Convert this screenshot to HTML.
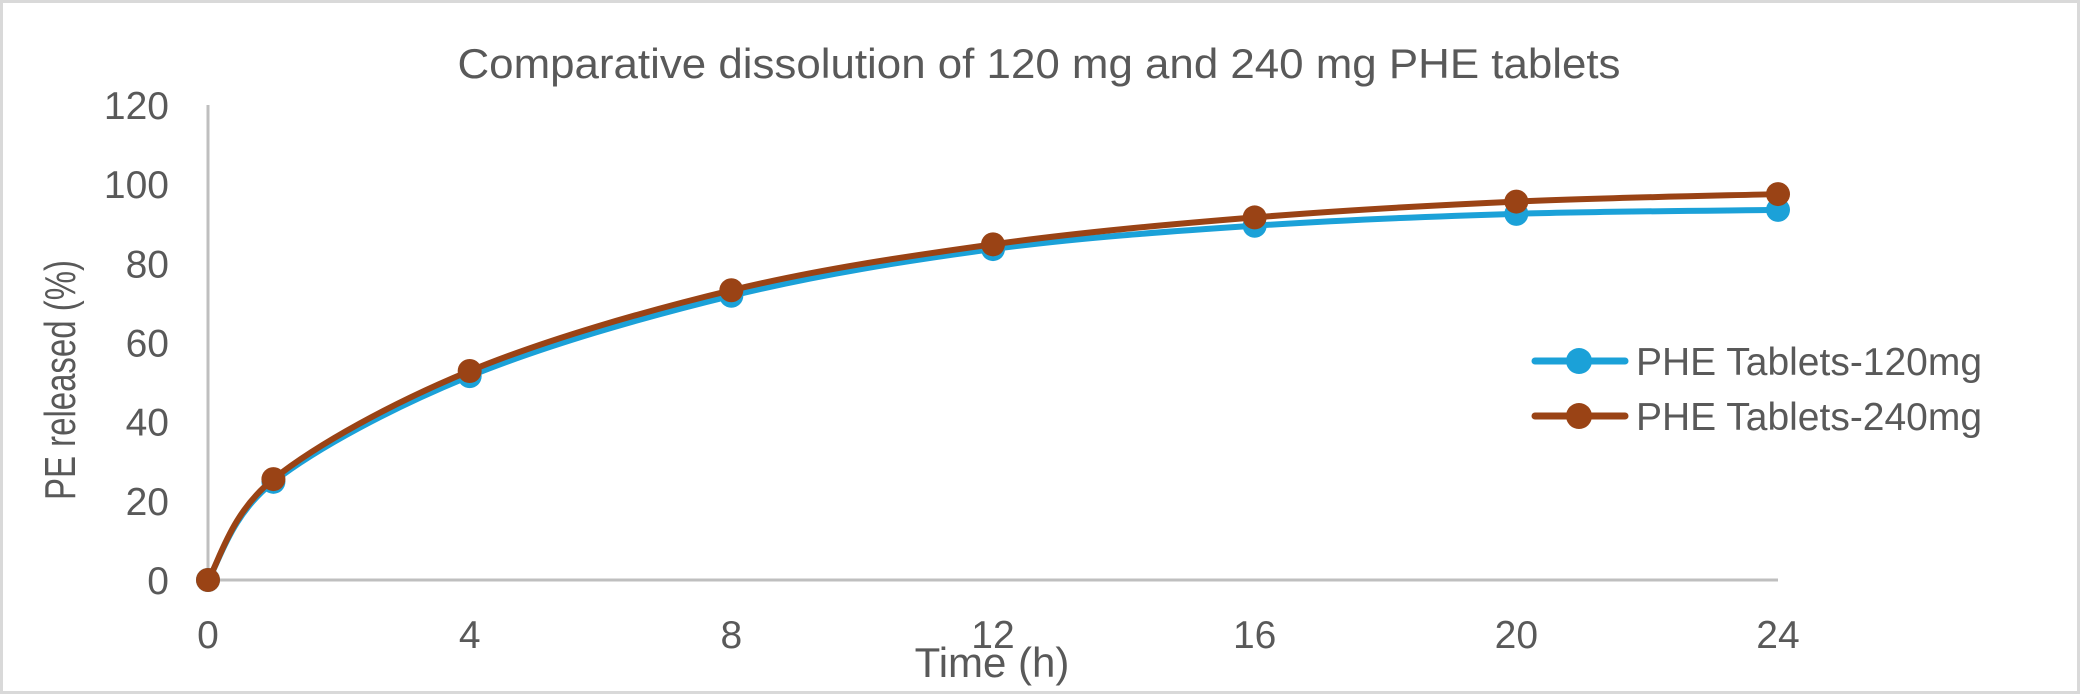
<!DOCTYPE html>
<html><head><meta charset="utf-8"><style>
html,body{margin:0;padding:0;background:#fff}
svg{display:block}
text{font-family:"Liberation Sans",sans-serif;fill:#595959}
</style></head><body>
<svg id="chart" width="2080" height="694" viewBox="0 0 2080 694">
<rect x="1.5" y="1.5" width="2077" height="691" fill="#fff" stroke="#d9d9d9" stroke-width="3"/>
<text x="1039" y="78" text-anchor="middle" font-size="42" textLength="1163" lengthAdjust="spacingAndGlyphs">Comparative dissolution of 120 mg and 240 mg PHE tablets</text>
<text transform="translate(75,380) rotate(-90)" text-anchor="middle" font-size="44" textLength="240" lengthAdjust="spacingAndGlyphs">PE released (%)</text>
<text x="992" y="677" text-anchor="middle" font-size="42">Time (h)</text>
<g id="axes"></g>
<g id="series"></g>
<g id="legend"></g>
</svg>
<script>
const times=[0,1,4,8,12,16,20,24];
const s120=[0,24.8,51.5,71.8,83.6,89.5,92.5,93.5];
const s240=[0,25.5,52.8,73.2,84.8,91.6,95.6,97.5];
const yTicks=[0,20,40,60,80,100,120];
const xTicks=[0,4,8,12,16,20,24];
const seriesNames=["PHE Tablets-120mg","PHE Tablets-240mg"];
const colors=["#1ba1d8","#9a4315"];

const NS="http://www.w3.org/2000/svg";
const X0=208,X1=1778,Y0=580,Y1=105;
const xs=v=>X0+(v-0)/(24-0)*(X1-X0);
const ys=v=>Y0-(v-0)/(120-0)*(Y0-Y1);
function mk(tag,attrs,parent){const e=document.createElementNS(NS,tag);for(const k in attrs)e.setAttribute(k,attrs[k]);parent.appendChild(e);return e;}
const axes=document.getElementById('axes');
let a=mk('line',{x1:X0,y1:Y1,x2:X0,y2:Y0,stroke:'#bfbfbf','stroke-width':3},axes);


a=mk('line',{x1:X0,y1:Y0,x2:X1,y2:Y0,stroke:'#bfbfbf','stroke-width':3},axes);


yTicks.forEach(v=>{const t=mk('text',{x:169,y:ys(v)+14,'text-anchor':'end','font-size':39},axes);t.textContent=v;

});
xTicks.forEach(v=>{const t=mk('text',{x:xs(v),y:648,'text-anchor':'middle','font-size':39},axes);t.textContent=v;

});
function smooth(pts){let d=`M${pts[0][0]},${pts[0][1]}`;
for(let i=0;i<pts.length-1;i++){const p0=pts[i-1]||pts[i],p1=pts[i],p2=pts[i+1],p3=pts[i+2]||p2;
const c1=[p1[0]+(p2[0]-p0[0])/6,p1[1]+(p2[1]-p0[1])/6],c2=[p2[0]-(p3[0]-p1[0])/6,p2[1]-(p3[1]-p1[1])/6];
d+=` C${c1[0]},${c1[1]} ${c2[0]},${c2[1]} ${p2[0]},${p2[1]}`;}return d;}
const ser=document.getElementById('series');
[s120,s240].forEach((arr,si)=>{
 const g=mk('g',{},ser);
 
 
 const pts=times.map((t,i)=>[xs(t),ys(arr[i])]);
 const p=mk('path',{d:smooth(pts),fill:'none',stroke:colors[si],'stroke-width':6,'stroke-linecap':'round'},g);
 
 
 pts.forEach(q=>{const c=mk('circle',{cx:q[0],cy:q[1],r:12,fill:colors[si]},g);
 
 });
});
const lg=document.getElementById('legend');
seriesNames.forEach((n,i)=>{const y=361+i*55;
 const g=mk('g',{},lg);
 
 
 mk('line',{x1:1535,y1:y,x2:1625,y2:y,stroke:colors[i],'stroke-width':7,'stroke-linecap':'round'},g);
 mk('circle',{cx:1579,cy:y,r:13,fill:colors[i]},g);
 const t=mk('text',{x:1636,y:y+14,'font-size':39,textLength:346,lengthAdjust:'spacingAndGlyphs'},g);t.textContent=n;});
</script>
</body></html>
